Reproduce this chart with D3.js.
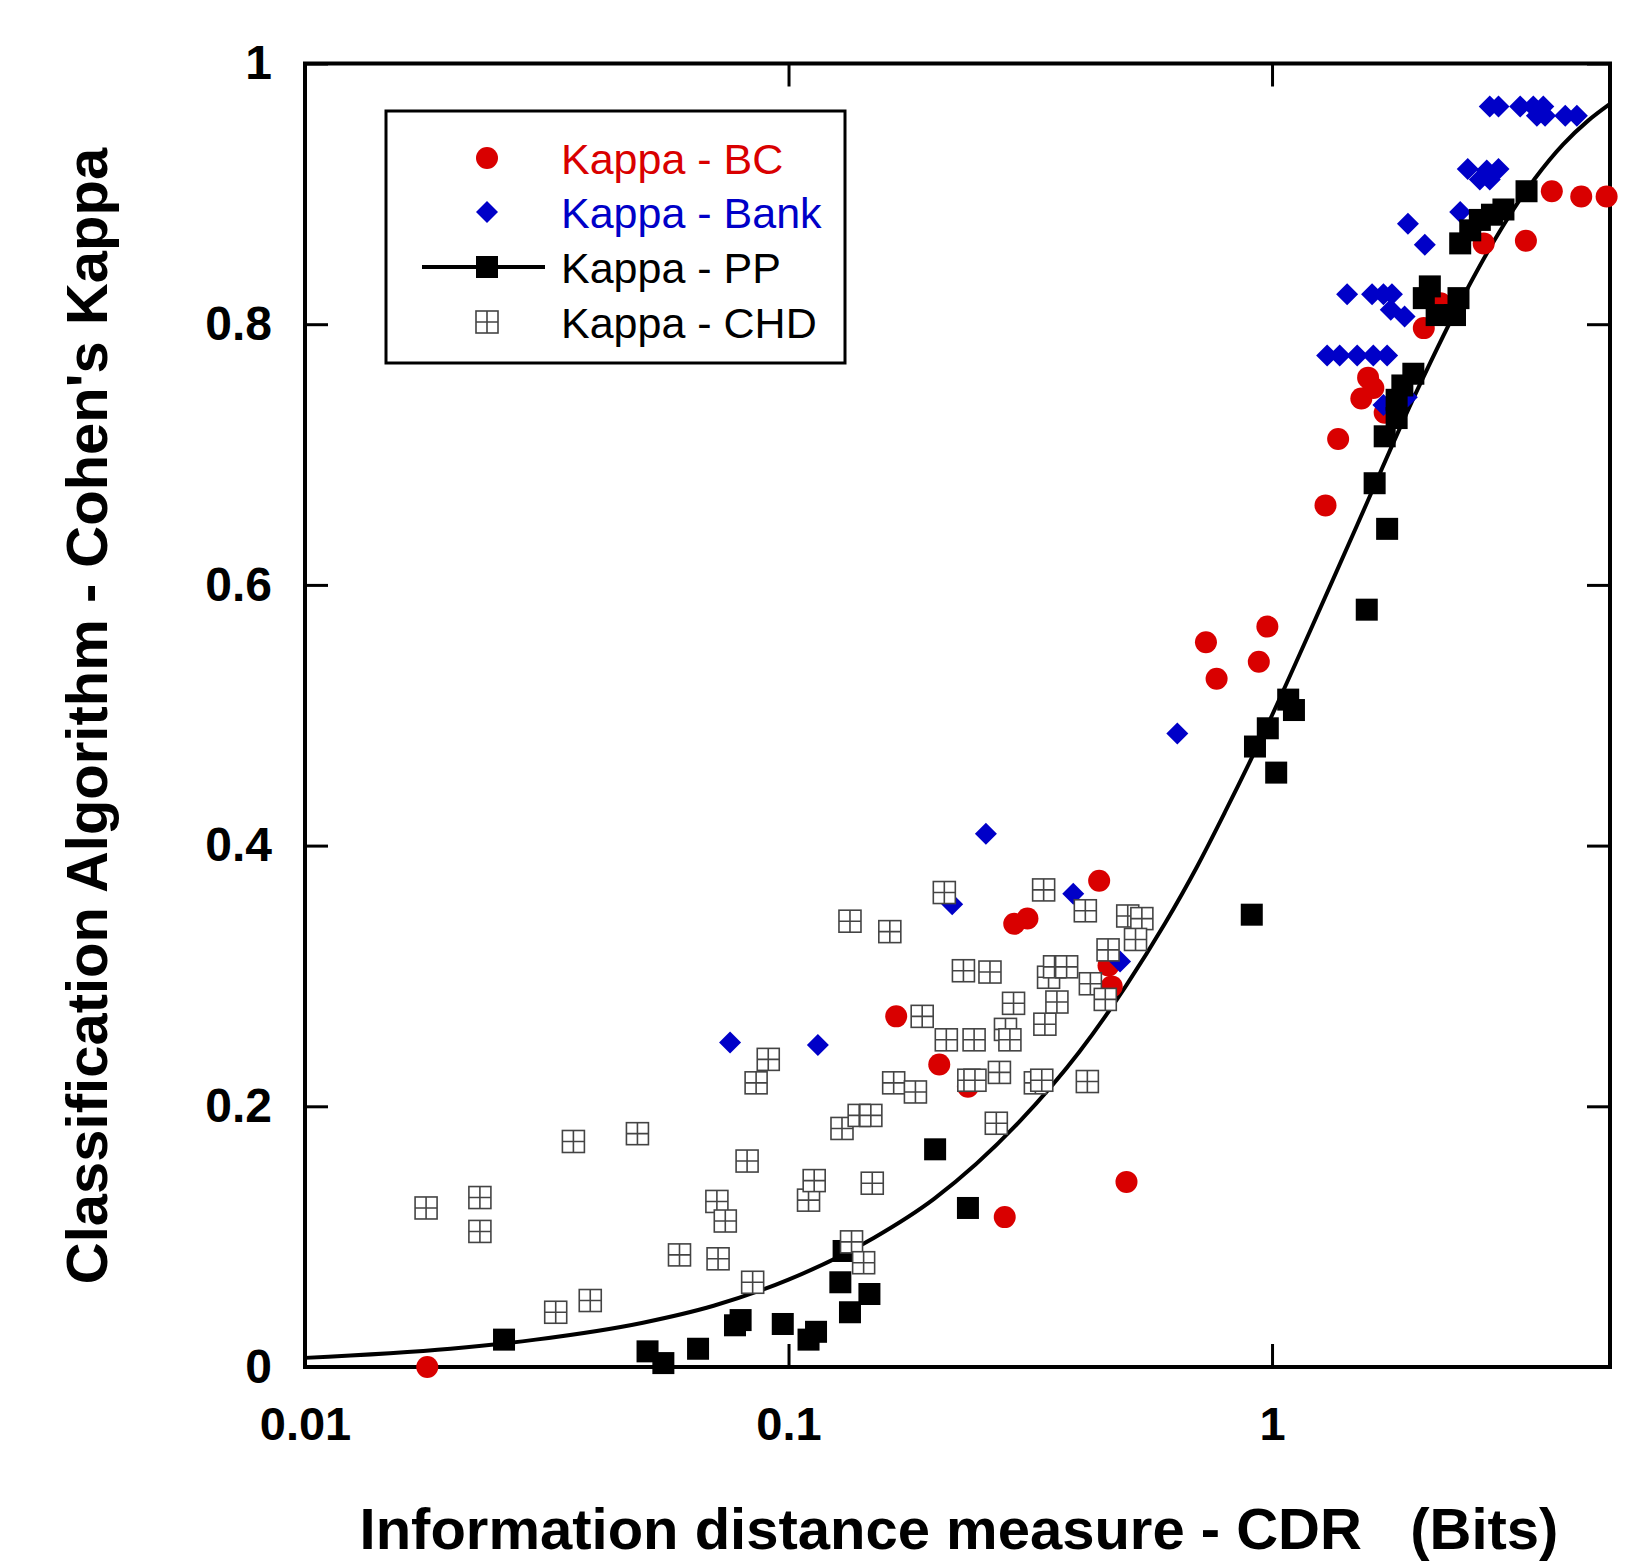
<!DOCTYPE html>
<html>
<head>
<meta charset="utf-8">
<script src="https://cdn.jsdelivr.net/npm/d3@7"></script>
<style>
  body { margin: 0; background: #fff; }
  svg { display: block; font-family: "Liberation Sans", Arial, sans-serif; }
</style>
</head>
<body>
<div id="chart"></div>
<script>
var width = 1639,
    height = 1564;

// CDR (bits) and kappa
var bcData = [
  [0.0179, 0.000], [0.167, 0.269], [0.205, 0.232], [0.235, 0.215], [0.280, 0.115],
  [0.293, 0.340], [0.312, 0.344], [0.439, 0.373], [0.459, 0.308], [0.466, 0.292],
  [0.500, 0.142], [0.730, 0.556], [0.768, 0.528], [0.939, 0.541], [0.978, 0.568],
  [1.29, 0.661], [1.37, 0.712], [1.53, 0.743], [1.58, 0.759], [1.62, 0.751],
  [1.71, 0.732], [2.06, 0.797], [2.23, 0.816], [2.74, 0.862], [3.35, 0.864],
  [3.79, 0.902], [4.36, 0.898], [4.92, 0.898]
];

var bankData = [
  [0.0757, 0.249], [0.115, 0.247], [0.218, 0.355], [0.256, 0.409], [0.388, 0.363],
  [0.485, 0.311], [0.637, 0.486],
  [1.30, 0.776], [1.38, 0.776], [1.50, 0.776], [1.62, 0.776], [1.73, 0.776],
  [1.43, 0.823], [1.61, 0.823], [1.70, 0.823], [1.77, 0.823], [1.76, 0.811], [1.88, 0.806],
  [1.70, 0.738], [1.90, 0.744],
  [1.91, 0.877], [2.07, 0.861], [2.45, 0.886],
  [2.54, 0.919], [2.69, 0.911], [2.78, 0.918], [2.82, 0.911], [2.94, 0.919],
  [2.82, 0.967], [2.94, 0.967], [3.26, 0.967], [3.47, 0.967], [3.64, 0.967],
  [3.53, 0.960], [3.67, 0.960], [4.04, 0.960], [4.27, 0.960]
];

var ppData = [
  [0.0258, 0.021], [0.0511, 0.012], [0.0551, 0.003], [0.0650, 0.014], [0.0775, 0.032],
  [0.0796, 0.036], [0.0973, 0.033], [0.110, 0.021], [0.114, 0.027], [0.128, 0.065],
  [0.130, 0.089], [0.134, 0.042], [0.147, 0.056], [0.201, 0.167], [0.235, 0.122],
  [0.908, 0.347], [0.922, 0.476], [0.980, 0.490], [1.02, 0.456], [1.08, 0.512],
  [1.11, 0.504], [1.57, 0.581], [1.63, 0.678], [1.73, 0.643], [1.71, 0.714],
  [1.81, 0.728], [1.81, 0.742], [1.86, 0.753], [1.96, 0.762], [2.06, 0.820],
  [2.12, 0.829], [2.19, 0.807], [2.39, 0.807], [2.43, 0.820], [2.45, 0.862],
  [2.57, 0.872], [2.69, 0.880], [2.85, 0.884], [3.01, 0.888], [3.36, 0.902]
];

// fitted curve drawn with the PP series
var ppFit = [
  [0.01, 0.007], [0.02, 0.014], [0.03, 0.021], [0.05, 0.034], [0.07, 0.047],
  [0.1, 0.067], [0.15, 0.099], [0.2, 0.129], [0.3, 0.188], [0.4, 0.242],
  [0.5, 0.293], [0.6, 0.340], [0.7, 0.384], [0.8, 0.426], [1.0, 0.500],
  [1.2, 0.565], [1.5, 0.646], [2.0, 0.750], [2.5, 0.823], [3.0, 0.875],
  [3.5, 0.912], [4.0, 0.938], [4.5, 0.956], [5.0, 0.969]
];

var chdData = [
  [0.0178, 0.122], [0.0230, 0.130], [0.0230, 0.104], [0.0330, 0.042], [0.0359, 0.173],
  [0.0389, 0.051], [0.0487, 0.179], [0.0595, 0.086], [0.0711, 0.127], [0.0740, 0.112],
  [0.0715, 0.083], [0.0821, 0.158], [0.0843, 0.065], [0.0857, 0.218], [0.0908, 0.236],
  [0.110, 0.128], [0.113, 0.143], [0.129, 0.183], [0.135, 0.096], [0.140, 0.193],
  [0.148, 0.193], [0.149, 0.141], [0.143, 0.080], [0.134, 0.342], [0.162, 0.334],
  [0.165, 0.218], [0.183, 0.211], [0.189, 0.269], [0.210, 0.364], [0.212, 0.251],
  [0.230, 0.304], [0.236, 0.220], [0.243, 0.220], [0.242, 0.251], [0.261, 0.303],
  [0.269, 0.187], [0.273, 0.226], [0.281, 0.259], [0.287, 0.251], [0.292, 0.279],
  [0.324, 0.218], [0.334, 0.220], [0.337, 0.366], [0.339, 0.263], [0.345, 0.299],
  [0.355, 0.307], [0.376, 0.307], [0.359, 0.280], [0.411, 0.350], [0.415, 0.219],
  [0.421, 0.294], [0.452, 0.282], [0.458, 0.320], [0.503, 0.346], [0.538, 0.344],
  [0.522, 0.328]
];

var xTicks = [0.01, 0.1, 1];
var yTicks = [0, 0.2, 0.4, 0.6, 0.8, 1];
var legendNames = ["Kappa - BC", "Kappa - Bank", "Kappa - PP", "Kappa - CHD"];

var red = "#d90000", blue = "#0000c8";

var x = d3.scaleLog().domain([0.01, 5]).range([305, 1610]);
var y = d3.scaleLinear().domain([0, 1]).range([1367, 63.5]);

var svg = d3.select("#chart").append("svg")
    .attr("width", width)
    .attr("height", height);

// axes, ticks pointing inward on all four sides
function styleAxis(g) {
    g.select(".domain").remove();
    g.selectAll(".tick line").attr("stroke", "#000").attr("stroke-width", 3);
    g.selectAll(".tick text")
        .attr("fill", "#000")
        .attr("font-size", 47)
        .attr("font-weight", "bold");
}

svg.append("g")
    .attr("transform", "translate(0,1367)")
    .call(d3.axisBottom(x).tickValues(xTicks).tickSize(-23).tickPadding(40)
        .tickFormat(d3.format("~g")))
    .call(styleAxis);

svg.append("g")
    .attr("transform", "translate(0,63.5)")
    .call(d3.axisTop(x).tickValues(xTicks).tickSize(-23).tickFormat(""))
    .call(styleAxis);

svg.append("g")
    .attr("transform", "translate(305,0)")
    .call(d3.axisLeft(y).tickValues(yTicks).tickSize(-23).tickPadding(33)
        .tickFormat(d3.format("~g")))
    .call(styleAxis)
    .selectAll(".tick text").attr("font-size", 48);

svg.append("g")
    .attr("transform", "translate(1610,0)")
    .call(d3.axisRight(y).tickValues(yTicks).tickSize(-23).tickFormat(""))
    .call(styleAxis);

svg.append("rect")
    .attr("x", x(0.01))
    .attr("y", y(1))
    .attr("width", x(5) - x(0.01))
    .attr("height", y(0) - y(1))
    .attr("fill", "none")
    .attr("stroke", "#000")
    .attr("stroke-width", 4);

// axis titles
svg.append("text")
    .attr("x", 959)
    .attr("y", 1549)
    .attr("text-anchor", "middle")
    .attr("font-size", 58)
    .attr("font-weight", "bold")
    .style("white-space", "pre")
    .text("Information distance measure - CDR   (Bits)");

svg.append("text")
    .attr("transform", "translate(107,716) rotate(-90)")
    .attr("text-anchor", "middle")
    .attr("font-size", 58)
    .attr("font-weight", "bold")
    .text("Classification Algorithm - Cohen's Kappa");

// markers
var diamond = "M0,-11L11,0L0,11L-11,0Z";

function chdMark(sel) {
    sel.append("rect")
        .attr("x", -11).attr("y", -11)
        .attr("width", 22).attr("height", 22)
        .attr("fill", "#fff")
        .attr("stroke", "#444")
        .attr("stroke-width", 1.6);
    sel.append("path")
        .attr("d", "M0,-11V11M-11,0H11")
        .attr("stroke", "#444")
        .attr("stroke-width", 1.6);
}

// fitted curve
svg.append("path")
    .datum(ppFit)
    .attr("fill", "none")
    .attr("stroke", "#000")
    .attr("stroke-width", 4)
    .attr("d", d3.line()
        .x(d => x(d[0]))
        .y(d => y(d[1]))
        .curve(d3.curveMonotoneX));

svg.append("g")
    .selectAll("circle")
    .data(bcData)
    .join("circle")
    .attr("cx", d => x(d[0]))
    .attr("cy", d => y(d[1]))
    .attr("r", 11)
    .attr("fill", red);

svg.append("g")
    .selectAll("path")
    .data(bankData)
    .join("path")
    .attr("transform", d => `translate(${x(d[0])},${y(d[1])})`)
    .attr("d", diamond)
    .attr("fill", blue);

svg.append("g")
    .selectAll("rect")
    .data(ppData)
    .join("rect")
    .attr("x", d => x(d[0]) - 11)
    .attr("y", d => y(d[1]) - 11)
    .attr("width", 22)
    .attr("height", 22)
    .attr("fill", "#000");

svg.append("g")
    .selectAll("g")
    .data(chdData)
    .join("g")
    .attr("transform", d => `translate(${x(d[0])},${y(d[1])})`)
    .call(chdMark);

// legend
var legend = svg.append("g");

legend.append("rect")
    .attr("x", 386)
    .attr("y", 111)
    .attr("width", 459)
    .attr("height", 252)
    .attr("fill", "#fff")
    .attr("stroke", "#000")
    .attr("stroke-width", 3);

var rowY = [158, 212, 267, 322];
var rowColor = [red, blue, "#000", "#000"];

var item = legend.selectAll("g.item")
    .data(legendNames)
    .join("g")
    .attr("class", "item")
    .attr("transform", (d, i) => `translate(487,${rowY[i]})`);

item.append("text")
    .attr("x", 74)
    .attr("y", 16)
    .attr("font-size", 43)
    .attr("fill", (d, i) => rowColor[i])
    .text(d => d);

item.filter((d, i) => i === 0).append("circle").attr("r", 11).attr("fill", red);
item.filter((d, i) => i === 1).append("path").attr("d", diamond).attr("fill", blue);
item.filter((d, i) => i === 2).append("line")
    .attr("x1", -65).attr("x2", 58)
    .attr("stroke", "#000").attr("stroke-width", 4);
item.filter((d, i) => i === 2).append("rect")
    .attr("x", -11).attr("y", -11).attr("width", 22).attr("height", 22)
    .attr("fill", "#000");
item.filter((d, i) => i === 3).call(chdMark);
</script>
</body>
</html>
